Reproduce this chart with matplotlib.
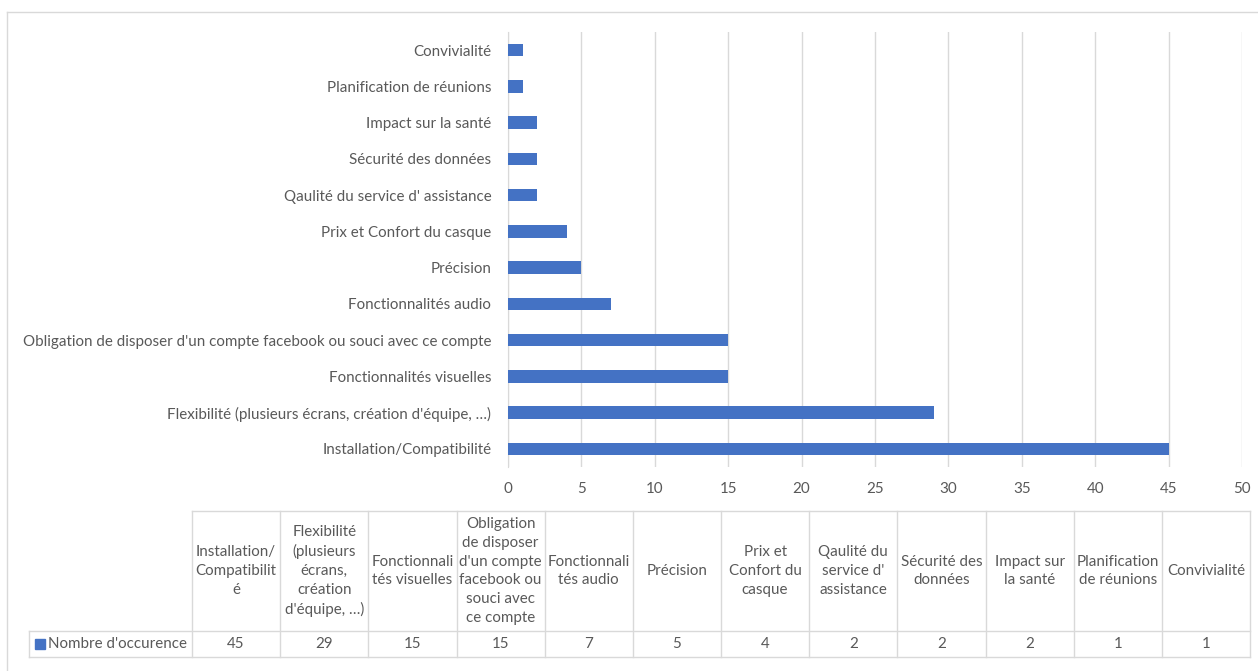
import numpy as np
import matplotlib.pyplot as plt
from matplotlib.lines import Line2D
from matplotlib.patches import Rectangle

plt.rcParams["font.family"] = ["Lato", "DejaVu Sans"]

# categories listed bottom to top, as on the bar axis
categories = [
    "Installation/Compatibilité",
    "Flexibilité (plusieurs écrans, création d'équipe, …)",
    "Fonctionnalités visuelles",
    "Obligation de disposer d'un compte facebook ou souci avec ce compte",
    "Fonctionnalités audio",
    "Précision",
    "Prix et Confort du casque",
    "Qaulité du service d' assistance",
    "Sécurité des données",
    "Impact sur la santé",
    "Planification de réunions",
    "Convivialité",
]
occurrences = [45, 29, 15, 15, 7, 5, 4, 2, 2, 2, 1, 1]

# wrapped headers for the data table under the chart
table_headers = [
    "Installation/\nCompatibilit\né",
    "Flexibilité\n(plusieurs\nécrans,\ncréation\nd'équipe, …)",
    "Fonctionnali\ntés visuelles",
    "Obligation\nde disposer\nd'un compte\nfacebook ou\nsouci avec\nce compte",
    "Fonctionnali\ntés audio",
    "Précision",
    "Prix et\nConfort du\ncasque",
    "Qaulité du\nservice d'\nassistance",
    "Sécurité des\ndonnées",
    "Impact sur\nla santé",
    "Planification\nde réunions",
    "Convivialité",
]
series_name = "Nombre d'occurence"
x_ticks = np.arange(0, 51, 5)

BAR = "#4472C4"
TXT = "#595959"
GRID = "#D9D9D9"
FS = 10.9

W, H = 1258, 671
fig = plt.figure(figsize=(W / 100, H / 100), dpi=100)


def fx(px):
    return px / W


def fy(py):
    return 1 - py / H


def hline(x0, x1, yy, color=GRID):
    fig.add_artist(Line2D([fx(x0), fx(x1)], [fy(yy), fy(yy)], color=color,
                          lw=1, transform=fig.transFigure))


def vline(xx, y0, y1, color=GRID):
    fig.add_artist(Line2D([fx(xx), fx(xx)], [fy(y0), fy(y1)], color=color,
                          lw=1, transform=fig.transFigure))


# outer chart frame
hline(7, W, 12)
vline(7, 12, H)

# bar chart
ax = fig.add_axes([fx(508), fy(467), fx(1242) - fx(508), (467 - 32) / H])
y = np.arange(len(categories))
ax.barh(y, occurrences, height=0.35, color=BAR, zorder=3)
ax.set_xlim(0, 50)
ax.set_ylim(-0.5, len(categories) - 0.5)
ax.set_xticks(x_ticks)
ax.set_yticks(y, categories)
ax.grid(axis="x", color=GRID, lw=1, zorder=0)
for side in ["top", "right", "bottom"]:
    ax.spines[side].set_visible(False)
ax.spines["left"].set_color(GRID)
ax.tick_params(length=0, colors=TXT, labelsize=FS)
ax.tick_params(axis="x", pad=11)
ax.tick_params(axis="y", pad=12)

# data table
edges = np.linspace(192, 1250, len(categories) + 1)
top, mid, bot = 511, 631, 657
hline(edges[0], edges[-1], top)
hline(29, edges[-1], mid)
hline(29, edges[-1], bot)
vline(29, mid, bot)
for e in edges:
    vline(e, top, bot)

for i, (head, val) in enumerate(zip(table_headers, occurrences)):
    cx = (edges[i] + edges[i + 1]) / 2
    fig.text(fx(cx), fy((top + mid) / 2), head, ha="center", va="center",
             fontsize=FS, color=TXT, linespacing=1.44)
    fig.text(fx(cx), fy((mid + bot) / 2), str(val), ha="center",
             va="center", fontsize=FS, color=TXT)

fig.add_artist(Rectangle((fx(35), fy(649)), fx(10), 10 / H, color=BAR,
                         transform=fig.transFigure))
fig.text(fx(48), fy((mid + bot) / 2), series_name, ha="left", va="center",
         fontsize=FS, color=TXT)

fig.savefig("out.png", dpi=100, facecolor="white")
